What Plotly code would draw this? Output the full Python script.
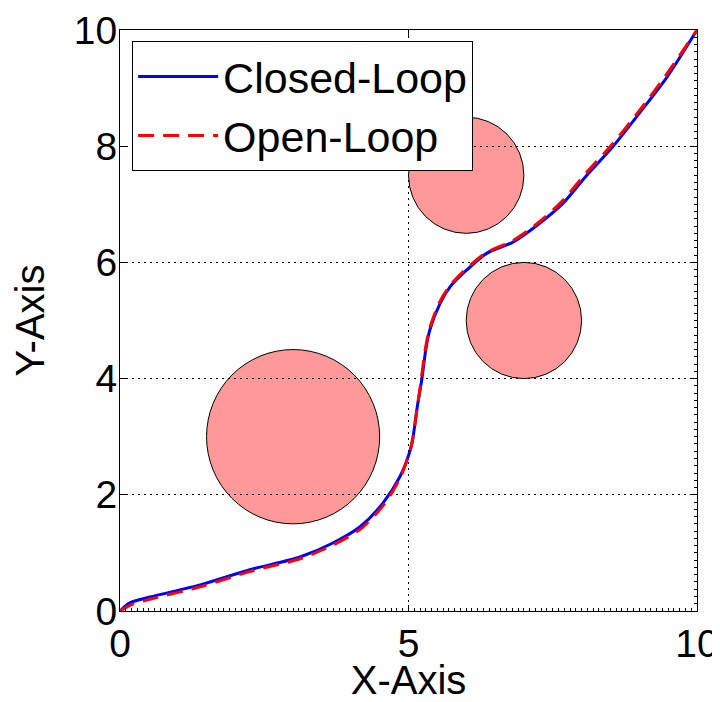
import plotly.graph_objects as go

# Closed-loop trajectory
closed_x = [0.0, 0.17, 0.52, 1.39, 2.25, 3.12, 3.69, 4.16, 4.56, 4.85, 5.03, 5.08, 5.15, 5.23, 5.30, 5.37,
            5.55, 5.72, 6.01, 6.36, 6.81, 7.23, 7.68, 8.09, 8.54, 9.01, 9.48, 10.0]
closed_y = [0.0, 0.14, 0.24, 0.45, 0.71, 0.93, 1.17, 1.45, 1.86, 2.31, 2.77, 3.0, 3.5, 3.98, 4.5, 4.84,
            5.30, 5.58, 5.87, 6.16, 6.35, 6.64, 7.02, 7.50, 7.99, 8.58, 9.19, 10.0]

# Open-loop trajectory
open_x = [0.0, 0.2, 0.55, 1.40, 2.25, 3.12, 3.70, 4.18, 4.58, 4.86, 5.03, 5.08, 5.15, 5.22, 5.29, 5.36,
          5.53, 5.71, 5.99, 6.35, 6.80, 7.22, 7.66, 8.07, 8.52, 9.00, 9.46, 10.0]
open_y = [0.0, 0.11, 0.21, 0.42, 0.68, 0.90, 1.14, 1.42, 1.84, 2.30, 2.77, 3.0, 3.5, 3.98, 4.5, 4.84,
          5.30, 5.59, 5.88, 6.17, 6.37, 6.66, 7.05, 7.53, 8.02, 8.61, 9.22, 10.0]

# Obstacles (circles)
obstacle_x = [3.0, 6.0, 7.0]
obstacle_y = [3.0, 7.5, 5.0]
obstacle_r = [1.5, 1.0, 1.0]

FONT = "Liberation Sans, Arial, sans-serif"

fig = go.Figure()

fig.add_trace(go.Scatter(x=closed_x, y=closed_y, mode="lines", name="Closed-Loop",
                         line=dict(color="#0000FF", width=3, shape="spline", smoothing=0.8)))
fig.add_trace(go.Scatter(x=open_x, y=open_y, mode="lines", name="Open-Loop",
                         line=dict(color="#FF0000", width=3, dash="16px,9px", shape="spline", smoothing=0.8)))
# anchor trace for the mirrored axes (top/right)
fig.add_trace(go.Scatter(x=[None], y=[None], xaxis="x2", yaxis="y2", showlegend=False, hoverinfo="skip"))

for cx, cy, r in zip(obstacle_x, obstacle_y, obstacle_r):
    fig.add_shape(type="circle", xref="x", yref="y", x0=cx - r, x1=cx + r, y0=cy - r, y1=cy + r,
                  fillcolor="#FF9999", line=dict(color="black", width=1), layer="below")

fig.update_layout(
    width=712, height=694,
    margin=dict(l=112, r=23, t=22, b=91, autoexpand=False),
    paper_bgcolor="white", plot_bgcolor="white",
    font=dict(family=FONT, size=39, color="black"),
    showlegend=True,
    legend=dict(x=0.021, y=0.981, xanchor="left", yanchor="top",
                bgcolor="white", bordercolor="black", borderwidth=1,
                font=dict(family=FONT, size=43, color="black"),
                itemwidth=80, tracegroupgap=0),
    xaxis=dict(range=[0, 10], tickmode="linear", tick0=0, dtick=5, ticks="inside", ticklen=6,
               tickcolor="black", automargin=False, ticklabelstandoff=-2, ticklabeloverflow="allow",
               showline=True, linecolor="black", linewidth=1, mirror=True,
               showgrid=True, gridcolor="black", griddash="2px,4px", gridwidth=1, zeroline=False,
               minor=dict(dtick=0.1, ticks="inside", ticklen=3, tickcolor="black", showgrid=False),
               title=dict(text="X-Axis", font=dict(family=FONT, size=40), standoff=17),
               tickfont=dict(family=FONT, size=39)),
    yaxis=dict(range=[0, 10], tickmode="linear", tick0=0, dtick=2, ticks="inside", ticklen=6,
               tickcolor="black", automargin=False, ticklabelstandoff=-6, ticklabeloverflow="allow",
               showline=True, linecolor="black", linewidth=1, mirror=True,
               showgrid=True, gridcolor="black", griddash="2px,4px", gridwidth=1, zeroline=False,
               title=dict(text="Y-Axis", font=dict(family=FONT, size=40), standoff=16),
               tickfont=dict(family=FONT, size=39)),
    xaxis2=dict(range=[0, 10], overlaying="x", side="top", anchor="y2", tickmode="array", tickvals=[5],
                ticks="inside", ticklen=6, tickcolor="black", showticklabels=False,
                showgrid=False, zeroline=False, showline=False),
    yaxis2=dict(range=[0, 10], overlaying="y", side="right", anchor="x2", tickmode="linear",
                tick0=0, dtick=2, ticks="inside", ticklen=6, tickcolor="black", showticklabels=False,
                showgrid=False, zeroline=False, showline=False,
                minor=dict(dtick=0.125, ticks="inside", ticklen=3, tickcolor="black", showgrid=False)),
)

fig.write_html("out.html")
